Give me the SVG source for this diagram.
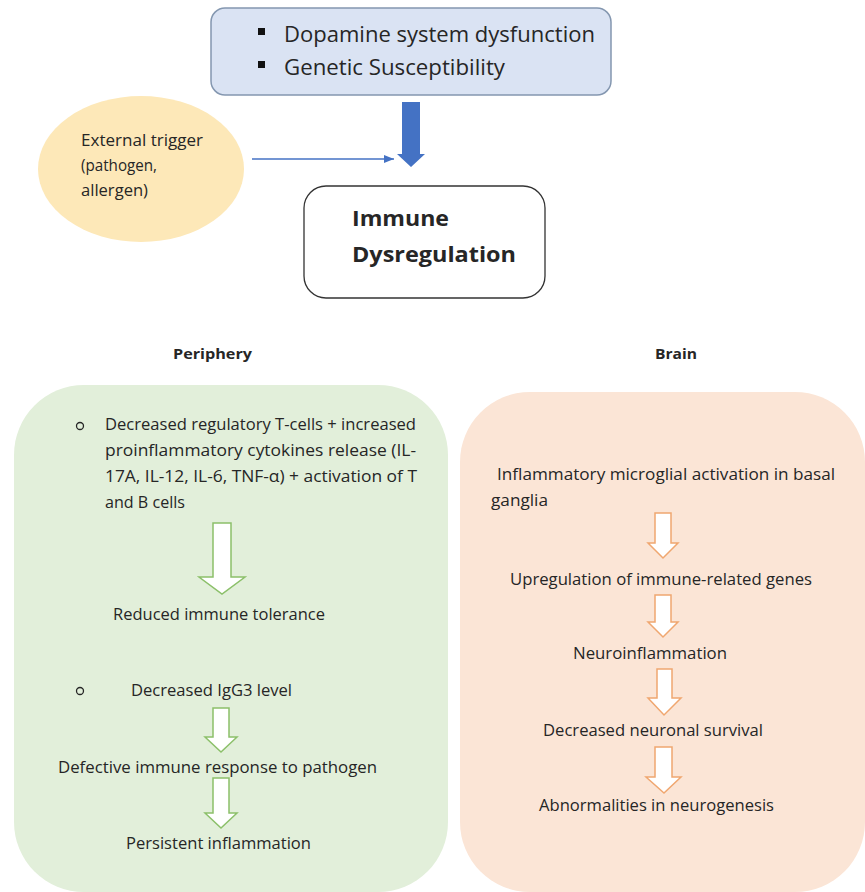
<svg xmlns="http://www.w3.org/2000/svg" width="865" height="892" viewBox="0 0 865 892">
<style>
  text { font-family: "Open Sans", "Noto Sans", "Liberation Sans", sans-serif; fill: #262626; }
  .t16 { font-size: 16px; }
  .t22 { font-size: 22px; }
  .bold { font-weight: bold; }
  .garrow { fill: #ffffff; stroke: #8cc06a; stroke-width: 1.5; }
  .oarrow { fill: #ffffff; stroke: #f0a770; stroke-width: 1.5; }
</style>
<defs>
  <marker id="thinhead" markerWidth="10" markerHeight="8" refX="10" refY="4" orient="auto" markerUnits="userSpaceOnUse">
    <path d="M0,0 L10,4 L0,8 Z" fill="#4472c4"/>
  </marker>
</defs>
<rect width="865" height="892" fill="#ffffff"/>

<g id="panel-periphery">
  <rect x="14" y="385" width="434" height="507" rx="70" ry="70" fill="#e2efda"/>
</g>
<g id="panel-brain">
  <rect x="460" y="392" width="405" height="500" rx="70" ry="70" fill="#fbe5d6"/>
</g>

<g id="node-top">
  <rect x="211" y="8" width="400" height="87" rx="14" ry="14" fill="#dae3f3" stroke="#8497b0" stroke-width="1.5"/>
  <rect x="258" y="28" width="7" height="7" fill="#111"/>
  <rect x="258" y="61" width="7" height="7" fill="#111"/>
  <text class="t22" x="284" y="42" textLength="311" lengthAdjust="spacingAndGlyphs">Dopamine system dysfunction</text>
  <text class="t22" x="284" y="75" textLength="221" lengthAdjust="spacingAndGlyphs">Genetic Susceptibility</text>
</g>

<g id="node-trigger">
  <ellipse cx="141" cy="169" rx="103" ry="73" fill="#fde8b8"/>
  <text class="t16" x="81" y="146" textLength="122" lengthAdjust="spacingAndGlyphs">External trigger</text>
  <text class="t16" x="81" y="171" textLength="76" lengthAdjust="spacingAndGlyphs">(pathogen,</text>
  <text class="t16" x="81" y="196" textLength="67" lengthAdjust="spacingAndGlyphs">allergen)</text>
</g>

<g id="node-immune">
  <rect x="304" y="186" width="241" height="112" rx="22" ry="22" fill="#ffffff" stroke="#333333" stroke-width="1.3"/>
  <text class="t22 bold" x="352" y="226" textLength="97" lengthAdjust="spacingAndGlyphs">Immune</text>
  <text class="t22 bold" x="352" y="262" textLength="164" lengthAdjust="spacingAndGlyphs">Dysregulation</text>
</g>

<g id="label-periphery">
  <text class="bold" style="font-size:14px" x="173" y="359" textLength="79" lengthAdjust="spacingAndGlyphs">Periphery</text>
</g>
<g id="label-brain">
  <text class="bold" style="font-size:14px" x="655" y="359" textLength="42" lengthAdjust="spacingAndGlyphs">Brain</text>
</g>

<g id="node-p1">
  <circle cx="80" cy="426" r="3.5" fill="none" stroke="#262626" stroke-width="1.3"/>
  <text class="t16" x="105" y="430" textLength="311" lengthAdjust="spacingAndGlyphs">Decreased regulatory T-cells + increased</text>
  <text class="t16" x="105" y="456" textLength="311" lengthAdjust="spacingAndGlyphs">proinflammatory cytokines release (IL-</text>
  <text class="t16" x="105" y="482" textLength="312" lengthAdjust="spacingAndGlyphs">17A, IL-12, IL-6, TNF-α) + activation of T</text>
  <text class="t16" x="105" y="508" textLength="80" lengthAdjust="spacingAndGlyphs">and B cells</text>
</g>
<g id="node-p2">
  <text class="t16" x="113" y="620" textLength="212" lengthAdjust="spacingAndGlyphs">Reduced immune tolerance</text>
</g>
<g id="node-p3">
  <circle cx="80" cy="691" r="3.5" fill="none" stroke="#262626" stroke-width="1.3"/>
  <text class="t16" x="131" y="696" textLength="161" lengthAdjust="spacingAndGlyphs">Decreased IgG3 level</text>
</g>
<g id="node-p4">
  <text class="t16" x="58" y="773" textLength="319" lengthAdjust="spacingAndGlyphs">Defective immune response to pathogen</text>
</g>
<g id="node-p5">
  <text class="t16" x="126" y="849" textLength="185" lengthAdjust="spacingAndGlyphs">Persistent inflammation</text>
</g>

<g id="node-b1">
  <text class="t16" x="497" y="480" textLength="338" lengthAdjust="spacingAndGlyphs">Inflammatory microglial activation in basal</text>
  <text class="t16" x="491" y="506" textLength="57" lengthAdjust="spacingAndGlyphs">ganglia</text>
</g>
<g id="node-b2">
  <text class="t16" x="510" y="585" textLength="302" lengthAdjust="spacingAndGlyphs">Upregulation of immune-related genes</text>
</g>
<g id="node-b3">
  <text class="t16" x="573" y="659" textLength="154" lengthAdjust="spacingAndGlyphs">Neuroinflammation</text>
</g>
<g id="node-b4">
  <text class="t16" x="543" y="736" textLength="220" lengthAdjust="spacingAndGlyphs">Decreased neuronal survival</text>
</g>
<g id="node-b5">
  <text class="t16" x="539" y="811" textLength="235" lengthAdjust="spacingAndGlyphs">Abnormalities in neurogenesis</text>
</g>

<g id="connectors">
  <polygon points="402,102 420,102 420,154 425,154 411,167 397,154 402,154" fill="#4472c4"/>
  <line x1="252" y1="159" x2="394" y2="159" stroke="#4472c4" stroke-width="1.3" marker-end="url(#thinhead)"/>

  <polygon class="garrow" points="213,523 231,523 231,577 245,577 222,594 199,577 213,577"/>
  <polygon class="garrow" points="213,708 229,708 229,737 237,737 221,752 205,737 213,737"/>
  <polygon class="garrow" points="213,778 229,778 229,813 237,813 221,828 205,813 213,813"/>

  <polygon class="oarrow" points="655,513 671,513 671,543 678,543 663,558 648,543 655,543"/>
  <polygon class="oarrow" points="655,595 671,595 671,622 678,622 663,637 648,622 655,622"/>
  <polygon class="oarrow" points="657,669 672,669 672,698 681,698 664,715 648,698 657,698"/>
  <polygon class="oarrow" points="655,747 672,747 672,777 681,777 664,793 646,777 655,777"/>
</g>
</svg>
